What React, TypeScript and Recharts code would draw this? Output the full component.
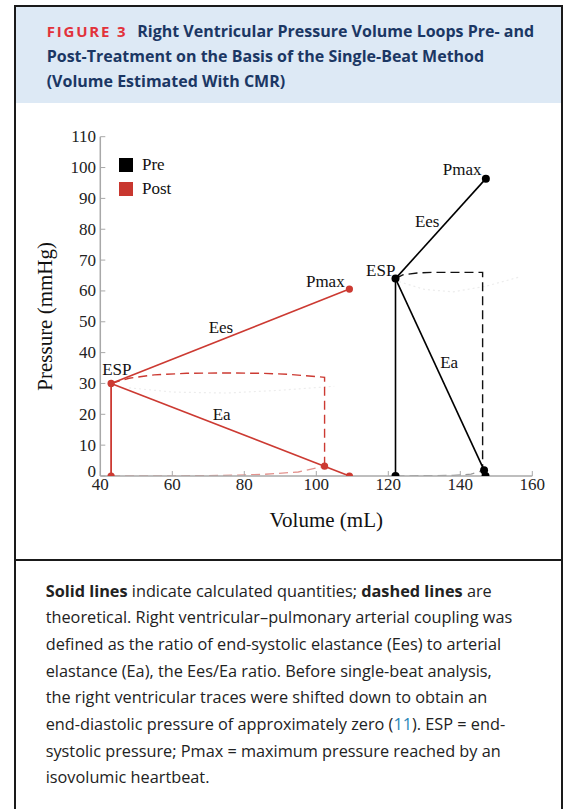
import React from 'react';
import {
  ComposedChart, Line, Scatter, XAxis, YAxis, Legend
} from 'recharts';

// --- data (volume mL, pressure mmHg) ---

const volumeTicks = [40, 60, 80, 100, 120, 140, 160];
const pressureTicks = [0, 10, 20, 30, 40, 50, 60, 70, 80, 90, 100, 110];
const topFrameTicks = [60, 80, 100, 120, 140];
const rightFrameTicks = [10, 20, 30, 40, 50, 60, 70, 80, 90, 100];

// Post-treatment (red)
const postVertical = [{ v: 43, p: 0 }, { v: 43, p: 30 }];
const postEes = [{ v: 43, p: 30 }, { v: 109.2, p: 60.6 }];
const postEa = [{ v: 43, p: 30 }, { v: 109.2, p: 0 }];
const postDashTop = [
  { v: 43, p: 30 }, { v: 48, p: 31.7 }, { v: 55, p: 32.8 }, { v: 64, p: 33.3 },
  { v: 75, p: 33.4 }, { v: 85, p: 33.3 }, { v: 92, p: 33 }, { v: 102.3, p: 32 },
  { v: 102.3, p: 3.2 },
];
const postDashBottom = [
  { v: 43, p: 0 }, { v: 70, p: 0.1 }, { v: 85, p: 0.5 }, { v: 95, p: 1.3 }, { v: 102.3, p: 3.2 },
];
const postFaint = [
  { v: 48, p: 28.6 }, { v: 60, p: 27.2 }, { v: 75, p: 26.9 }, { v: 90, p: 27.8 }, { v: 105, p: 29.1 },
];
const postDots = [
  { v: 43, p: 0 }, { v: 43, p: 30 }, { v: 109.2, p: 60.6 }, { v: 109.2, p: 0 }, { v: 102.3, p: 3.2 },
];

// Pre-treatment (black)
const preVertical = [{ v: 122, p: 0 }, { v: 122, p: 64 }];
const preEes = [{ v: 122, p: 64 }, { v: 147.1, p: 96.4 }];
const preEa = [{ v: 122, p: 64 }, { v: 146.6, p: 1.9 }];
const preDashTop = [
  { v: 122, p: 64 }, { v: 124, p: 65.2 }, { v: 128, p: 65.8 }, { v: 132, p: 66 },
  { v: 146.2, p: 66 }, { v: 146.2, p: 1.9 },
];
const preDashBottom = [
  { v: 122, p: 0 }, { v: 138, p: 0.2 }, { v: 143, p: 0.6 }, { v: 146.6, p: 1.9 },
];
const preFaint = [
  { v: 123, p: 63 }, { v: 130, p: 60.5 }, { v: 138, p: 59.7 }, { v: 147, p: 61.5 }, { v: 156.7, p: 64.6 },
];
const preDots = [
  { v: 122, p: 0 }, { v: 122, p: 64 }, { v: 147.1, p: 96.4 }, { v: 146.6, p: 1.9 }, { v: 147, p: 0 },
];

const annotations = [
  { v: 102.5, p: 63.2, text: 'Pmax' },
  { v: 73.5, p: 48.1, text: 'Ees' },
  { v: 44.6, p: 34.4, text: 'ESP' },
  { v: 73.7, p: 20.1, text: 'Ea' },
  { v: 117.9, p: 66.5, text: 'ESP' },
  { v: 130.8, p: 82.4, text: 'Ees' },
  { v: 140.5, p: 99.4, text: 'Pmax' },
  { v: 136.9, p: 36.7, text: 'Ea' },
];

const legendItems = [
  { name: 'Pre', color: '#000000' },
  { name: 'Post', color: '#c8372f' },
];

const captionLines = [
  [{ t: 'Solid lines', b: true }, { t: ' indicate calculated quantities; ' }, { t: 'dashed lines', b: true }, { t: ' are' }],
  [{ t: 'theoretical. Right ventricular\u2013pulmonary arterial coupling was' }],
  [{ t: 'defined as the ratio of end-systolic elastance (Ees) to arterial' }],
  [{ t: 'elastance (Ea), the Ees/Ea ratio. Before single-beat analysis,' }],
  [{ t: 'the right ventricular traces were shifted down to obtain an' }],
  [{ t: 'end-diastolic pressure of approximately zero (' }, { t: '11', link: true }, { t: '). ESP = end-' }],
  [{ t: 'systolic pressure; Pmax = maximum pressure reached by an' }],
  [{ t: 'isovolumic heartbeat.' }],
];

const RED = '#cc3a32';
const SERIF = '"Liberation Serif", "DejaVu Serif", serif';
const SANS = '"Open Sans", "Noto Sans", sans-serif';
const FRAME = '#a8a8a8';

const AnnotationText = (props: any) => {
  const { cx, cy, payload } = props;
  return (
    <text x={cx} y={cy} textAnchor="middle" dominantBaseline="central"
      fontFamily={SERIF} fontSize={17} fill="#111">
      {payload?.text}
    </text>
  );
};

const dot = (color: string, r: number) => (props: any) => (
  <circle cx={props.cx} cy={props.cy} r={r} fill={color} />
);

// the "0" label sits a little higher in the original
const YTick = (props: any) => {
  const { x, y, payload } = props;
  const shift = payload.value === 0 ? -5 : 0;
  return (
    <text x={x} y={y + shift} textAnchor="end" dominantBaseline="central"
      fontFamily={SERIF} fontSize={17} fill="#222">{payload.value}</text>
  );
};

const XTitle = (props: any) => {
  const vb = props.viewBox || {};
  return (
    <text x={vb.x + vb.width / 2 + 10} y={vb.y + 44} textAnchor="middle" dominantBaseline="central"
      fontFamily={SERIF} fontSize={21} fill="#111">Volume (mL)</text>
  );
};

const YTitle = (props: any) => {
  const vb = props.viewBox || {};
  const cx = vb.x + 5;
  const cy = vb.y + vb.height / 2 + 10;
  return (
    <text x={cx} y={cy} textAnchor="middle" dominantBaseline="central"
      transform={`rotate(-90 ${cx} ${cy})`} fontFamily={SERIF} fontSize={21} fill="#111">
      Pressure (mmHg)
    </text>
  );
};

const LegendBox = () => (
  <div>
    {legendItems.map((it) => (
      <div key={it.name} style={{ display: 'flex', alignItems: 'center', height: 23.5 }}>
        <span style={{ width: 14, height: 14, background: it.color, display: 'inline-block' }} />
        <span style={{ marginLeft: 9, fontFamily: SERIF, fontSize: 17, color: '#111' }}>{it.name}</span>
      </div>
    ))}
  </div>
);

const tickStyle = { fontFamily: SERIF, fontSize: 17, fill: '#222' };

const PVChart = () => (
  <ComposedChart width={567} height={545}
    margin={{ top: 136.7, right: 34.7, bottom: 29, left: 40.3 }}>
    <XAxis xAxisId="main" type="number" dataKey="v" domain={[40, 160]} ticks={volumeTicks}
      allowDataOverflow height={40} tickSize={-5} tickMargin={6.5}
      axisLine={{ stroke: FRAME, strokeWidth: 1.5 }} tickLine={{ stroke: FRAME }}
      tick={tickStyle} label={<XTitle />} />
    <XAxis xAxisId="top" orientation="top" type="number" dataKey="v" domain={[40, 160]}
      ticks={topFrameTicks} height={0} tickSize={-5} tick={false}
      axisLine={{ stroke: FRAME, strokeWidth: 1.5 }} tickLine={{ stroke: FRAME }} />
    <YAxis yAxisId="main" type="number" dataKey="p" domain={[0, 110]} ticks={pressureTicks}
      allowDataOverflow width={60} tickSize={-5} tickMargin={9.3}
      axisLine={{ stroke: FRAME, strokeWidth: 1.5 }} tickLine={{ stroke: FRAME }}
      tick={<YTick />} label={<YTitle />} />
    <YAxis yAxisId="right" orientation="right" type="number" dataKey="p" domain={[0, 110]}
      ticks={rightFrameTicks} width={0} tickSize={-5} tick={false}
      axisLine={{ stroke: FRAME, strokeWidth: 1.5 }} tickLine={{ stroke: FRAME }} />

    <Legend layout="vertical" align="center" verticalAlign="middle" content={<LegendBox />}
      wrapperStyle={{ left: 119, top: 153.5, width: 80 }} />

    {/* faint background traces */}
    <Line xAxisId="main" yAxisId="main" data={postFaint} dataKey="p" stroke="#ececec" strokeWidth={1.2}
      strokeDasharray="2 3" dot={false} isAnimationActive={false} />
    <Line xAxisId="main" yAxisId="main" data={preFaint} dataKey="p" stroke="#ececec" strokeWidth={1.2}
      strokeDasharray="2 3" dot={false} isAnimationActive={false} />

    {/* post (red) */}
    <Line xAxisId="main" yAxisId="main" data={postDashBottom} dataKey="p" type="linear" stroke={RED}
      strokeOpacity={0.55} strokeWidth={1.3} strokeDasharray="9 5" dot={false} isAnimationActive={false} />
    <Line xAxisId="main" yAxisId="main" data={postDashTop} dataKey="p" type="linear" stroke={RED}
      strokeWidth={1.4} strokeDasharray="9 5" dot={false} isAnimationActive={false} />
    <Line xAxisId="main" yAxisId="main" data={postVertical} dataKey="p" stroke={RED} strokeWidth={1.8}
      dot={false} isAnimationActive={false} />
    <Line xAxisId="main" yAxisId="main" data={postEes} dataKey="p" stroke={RED} strokeWidth={1.6}
      dot={false} isAnimationActive={false} />
    <Line xAxisId="main" yAxisId="main" data={postEa} dataKey="p" stroke={RED} strokeWidth={1.6}
      dot={false} isAnimationActive={false} />
    <Scatter xAxisId="main" yAxisId="main" data={postDots} dataKey="p" shape={dot(RED, 3.6)}
      isAnimationActive={false} />

    {/* pre (black) */}
    <Line xAxisId="main" yAxisId="main" data={preDashBottom} dataKey="p" type="linear" stroke="#555"
      strokeOpacity={0.6} strokeWidth={1.3} strokeDasharray="9 5" dot={false} isAnimationActive={false} />
    <Line xAxisId="main" yAxisId="main" data={preDashTop} dataKey="p" type="linear" stroke="#111"
      strokeWidth={1.4} strokeDasharray="9 5" dot={false} isAnimationActive={false} />
    <Line xAxisId="main" yAxisId="main" data={preVertical} dataKey="p" stroke="#000" strokeWidth={1.6}
      dot={false} isAnimationActive={false} />
    <Line xAxisId="main" yAxisId="main" data={preEes} dataKey="p" stroke="#000" strokeWidth={1.6}
      dot={false} isAnimationActive={false} />
    <Line xAxisId="main" yAxisId="main" data={preEa} dataKey="p" stroke="#000" strokeWidth={1.6}
      dot={false} isAnimationActive={false} />
    <Scatter xAxisId="main" yAxisId="main" data={preDots} dataKey="p" shape={dot('#000', 4)}
      isAnimationActive={false} />

    <Scatter xAxisId="main" yAxisId="main" data={annotations} dataKey="p" shape={<AnnotationText />}
      isAnimationActive={false} />
  </ComposedChart>
);

export default function App() {
  return (
    <div style={{ position: 'absolute', left: 0, top: 0, width: 567, height: 809, background: '#fff', overflow: 'hidden' }}>
      {/* figure frame */}
      <div style={{ position: 'absolute', left: 13.7, top: 4.7, width: 545.5, height: 900, border: '2px solid #1a1a1a' }} />
      {/* header */}
      <div style={{
        position: 'absolute', left: 15.7, top: 6.7, width: 545.5, height: 96.6, background: '#dde9f5',
        fontFamily: SANS, fontWeight: 700, fontSize: 16, color: '#1b3764', lineHeight: '25px',
        paddingTop: 12.5, boxSizing: 'border-box', paddingLeft: 31,
      }}>
        <div style={{ whiteSpace: 'nowrap' }}>
          <span style={{ color: '#e2323b', letterSpacing: 1.8, fontSize: 15 }}>FIGURE 3</span>
          <span style={{ marginLeft: 10 }}>Right Ventricular Pressure Volume Loops Pre- and</span>
        </div>
        <div style={{ whiteSpace: 'nowrap' }}>Post-Treatment on the Basis of the Single-Beat Method</div>
        <div style={{ whiteSpace: 'nowrap' }}>(Volume Estimated With CMR)</div>
      </div>

      <div style={{ position: 'absolute', left: 0, top: 0 }}>
        <PVChart />
      </div>

      {/* divider */}
      <div style={{ position: 'absolute', left: 14.7, top: 558.5, width: 547, height: 2, background: '#1a1a1a' }} />

      {/* caption */}
      <div style={{
        position: 'absolute', left: 45.7, top: 577.7, fontFamily: SANS, fontSize: 16.3,
        lineHeight: '26.67px', color: '#222',
      }}>
        {captionLines.map((line, i) => (
          <div key={i} style={{ whiteSpace: 'nowrap' }}>
            {line.map((seg: any, j: number) => (
              <span key={j} style={{ fontWeight: seg.b ? 700 : 400, color: seg.link ? '#2a88b8' : undefined }}>
                {seg.t}
              </span>
            ))}
          </div>
        ))}
      </div>
    </div>
  );
}
